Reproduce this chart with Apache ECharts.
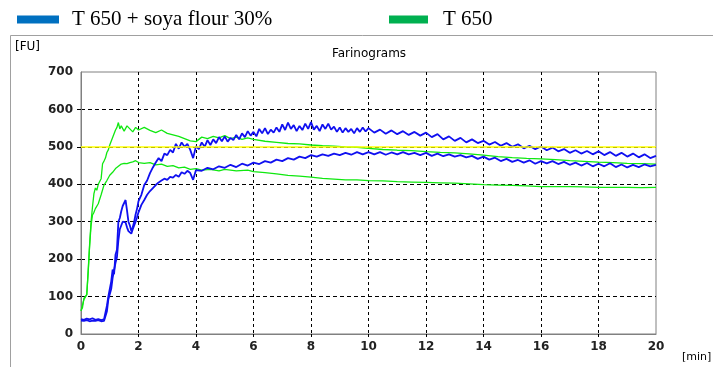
<!DOCTYPE html>
<html>
<head>
<meta charset="utf-8">
<script src="https://cdn.jsdelivr.net/npm/echarts@6/dist/echarts.min.js"></script>
<style>
  html, body { margin: 0; padding: 0; background: #fff; }
  #chart { width: 713px; height: 367px; }
</style>
</head>
<body>
<div id="chart"></div>
<script>
// tick labels
const xTicks = [0, 2, 4, 6, 8, 10, 12, 14, 16, 18, 20];
const yTicks = [0, 100, 200, 300, 400, 500, 600, 700];
const refLine = 500;

// [min, FU]
const soyaUpper = [
  [0, 40], [0.1, 38], [0.2, 41], [0.3, 39], [0.4, 42], [0.5, 38], [0.6, 40], [0.7, 37], [0.8, 39], [0.85, 40],
  [0.9, 75], [0.95, 100], [1.0, 98], [1.05, 140], [1.1, 172], [1.15, 160], [1.2, 212], [1.25, 225], [1.3, 300],
  [1.35, 310], [1.4, 328], [1.45, 342], [1.5, 350], [1.55, 358], [1.6, 330], [1.65, 300], [1.7, 290], [1.75, 275],
  [1.8, 285], [1.85, 300], [1.9, 320], [1.95, 335], [2.0, 355], [2.1, 372], [2.2, 398], [2.3, 410], [2.4, 430],
  [2.5, 445], [2.6, 458], [2.7, 470], [2.8, 462], [2.9, 482], [3.0, 478], [3.1, 492], [3.2, 485], [3.3, 508],
  [3.4, 495], [3.5, 512], [3.6, 500], [3.7, 508], [3.8, 492], [3.9, 470], [4.0, 502], [4.1, 494], [4.2, 512],
  [4.3, 500], [4.4, 518], [4.5, 505], [4.6, 520], [4.7, 510], [4.8, 526], [4.9, 515], [5.0, 528], [5.1, 514],
  [5.2, 524], [5.3, 518], [5.4, 532], [5.5, 520], [5.6, 536], [5.7, 526], [5.8, 542], [5.9, 530], [6.0, 540],
  [6.1, 528], [6.2, 548], [6.3, 536], [6.4, 550], [6.5, 534], [6.6, 546], [6.7, 538], [6.8, 552], [6.9, 540],
  [7.0, 560], [7.1, 545], [7.2, 565], [7.3, 548], [7.4, 558], [7.5, 542], [7.6, 556], [7.7, 545], [7.8, 562],
  [7.9, 548], [8.0, 566], [8.1, 546], [8.2, 556], [8.3, 542], [8.4, 560], [8.5, 548], [8.6, 562], [8.7, 546],
  [8.8, 554], [8.9, 540], [9.0, 552], [9.1, 538], [9.2, 550], [9.3, 540], [9.4, 548], [9.5, 536], [9.6, 550],
  [9.7, 540], [9.8, 552], [9.9, 541], [10.0, 550], [10.2, 538], [10.4, 546], [10.6, 535], [10.8, 544],
  [11.0, 534], [11.2, 542], [11.4, 532], [11.6, 540], [11.8, 530], [12.0, 538], [12.2, 526], [12.4, 534],
  [12.6, 520], [12.8, 528], [13.0, 516], [13.2, 524], [13.4, 512], [13.6, 520], [13.8, 510], [14.0, 516],
  [14.2, 506], [14.4, 513], [14.6, 503], [14.8, 510], [15.0, 500], [15.2, 507], [15.4, 496], [15.6, 503],
  [15.8, 494], [16.0, 501], [16.2, 491], [16.4, 498], [16.6, 488], [16.8, 494], [17.0, 484], [17.2, 491],
  [17.4, 482], [17.6, 489], [17.8, 480], [18.0, 488], [18.2, 478], [18.4, 486], [18.6, 476], [18.8, 484],
  [19.0, 474], [19.2, 482], [19.4, 472], [19.6, 480], [19.8, 470], [20.0, 476]
];
const soyaLower = [
  [0, 36], [0.1, 35], [0.2, 37], [0.3, 34], [0.4, 36], [0.5, 35], [0.6, 37], [0.7, 34], [0.8, 35], [0.85, 36],
  [0.9, 60], [0.95, 92], [1.0, 95], [1.05, 120], [1.1, 150], [1.15, 148], [1.2, 190], [1.25, 205], [1.3, 250],
  [1.35, 280], [1.4, 290], [1.45, 300], [1.5, 305], [1.55, 298], [1.6, 285], [1.65, 275], [1.7, 272], [1.75, 268],
  [1.8, 280], [1.85, 290], [1.9, 300], [1.95, 312], [2.0, 325], [2.1, 345], [2.2, 358], [2.3, 372], [2.4, 382],
  [2.5, 390], [2.6, 398], [2.7, 405], [2.8, 410], [2.9, 415], [3.0, 412], [3.1, 420], [3.2, 418], [3.3, 425],
  [3.4, 420], [3.5, 432], [3.6, 428], [3.7, 436], [3.8, 430], [3.9, 412], [4.0, 438], [4.2, 436], [4.4, 444],
  [4.6, 440], [4.8, 448], [5.0, 444], [5.2, 452], [5.4, 446], [5.6, 455], [5.8, 450], [6.0, 458], [6.2, 454],
  [6.4, 462], [6.6, 458], [6.8, 466], [7.0, 462], [7.2, 470], [7.4, 466], [7.6, 474], [7.8, 470], [8.0, 478],
  [8.2, 474], [8.4, 480], [8.6, 476], [8.8, 482], [9.0, 478], [9.2, 484], [9.4, 479], [9.6, 486], [9.8, 480],
  [10.0, 486], [10.2, 480], [10.4, 486], [10.6, 479], [10.8, 485], [11.0, 480], [11.2, 486], [11.4, 480],
  [11.6, 484], [11.8, 478], [12.0, 484], [12.2, 476], [12.4, 482], [12.6, 475], [12.8, 480], [13.0, 474],
  [13.2, 478], [13.4, 472], [13.6, 476], [13.8, 468], [14.0, 474], [14.2, 466], [14.4, 471], [14.6, 462],
  [14.8, 468], [15.0, 460], [15.2, 465], [15.4, 458], [15.6, 464], [15.8, 455], [16.0, 462], [16.2, 456],
  [16.4, 462], [16.6, 454], [16.8, 460], [17.0, 452], [17.2, 458], [17.4, 450], [17.6, 457], [17.8, 448],
  [18.0, 455], [18.2, 448], [18.4, 456], [18.6, 446], [18.8, 453], [19.0, 445], [19.2, 452], [19.4, 446],
  [19.6, 453], [19.8, 448], [20.0, 452]
];
const plainUpper = [
  [0, 62], [0.05, 70], [0.1, 95], [0.15, 92], [0.2, 105], [0.25, 170], [0.3, 240], [0.35, 300], [0.4, 340],
  [0.45, 375], [0.5, 390], [0.55, 384], [0.6, 400], [0.65, 396], [0.7, 415], [0.75, 455], [0.8, 462],
  [0.85, 470], [0.9, 485], [0.95, 492], [1.0, 505], [1.05, 515], [1.1, 525], [1.15, 520], [1.2, 545],
  [1.25, 552], [1.3, 565], [1.35, 548], [1.4, 556], [1.5, 542], [1.6, 556], [1.7, 548], [1.8, 540], [1.9, 552],
  [2.0, 545], [2.2, 552], [2.4, 544], [2.6, 538], [2.8, 545], [3.0, 536], [3.2, 532], [3.4, 528], [3.6, 522],
  [3.8, 516], [4.0, 514], [4.2, 526], [4.4, 522], [4.6, 528], [4.8, 524], [5.0, 530], [5.2, 522], [5.4, 526],
  [5.6, 520], [5.8, 524], [6.0, 520], [6.4, 515], [6.8, 512], [7.2, 509], [7.6, 508], [8.0, 505], [8.4, 503],
  [8.8, 502], [9.2, 500], [9.6, 499], [10.0, 496], [10.5, 493], [11.0, 491], [11.5, 490], [12.0, 487],
  [12.5, 485], [13.0, 484], [13.5, 481], [14.0, 478], [14.5, 474], [15.0, 471], [15.5, 469], [16.0, 468],
  [16.5, 466], [17.0, 463], [17.5, 461], [18.0, 459], [18.5, 458], [19.0, 456], [19.5, 455], [20.0, 454]
];
const plainLower = [
  [0, 62], [0.1, 92], [0.2, 105], [0.25, 165], [0.3, 235], [0.35, 290], [0.4, 318], [0.45, 325], [0.5, 335],
  [0.6, 348], [0.7, 372], [0.8, 398], [0.9, 410], [1.0, 424], [1.1, 432], [1.2, 442], [1.3, 448], [1.4, 454],
  [1.5, 456], [1.6, 455], [1.7, 458], [1.8, 460], [1.9, 463], [2.0, 458], [2.2, 456], [2.4, 458], [2.6, 452],
  [2.8, 454], [3.0, 448], [3.2, 450], [3.4, 444], [3.6, 446], [3.8, 440], [4.0, 442], [4.2, 438], [4.5, 440],
  [4.8, 436], [5.0, 440], [5.4, 436], [5.8, 438], [6.0, 434], [6.4, 431], [6.8, 428], [7.2, 424], [7.6, 422],
  [8.0, 419], [8.4, 416], [8.8, 414], [9.2, 412], [9.6, 412], [10.0, 410], [10.5, 409], [11.0, 407],
  [11.5, 406], [12.0, 405], [12.5, 404], [13.0, 403], [13.5, 401], [14.0, 399], [14.5, 398], [15.0, 397],
  [15.5, 396], [16.0, 394], [16.5, 394], [17.0, 394], [17.5, 393], [18.0, 392], [18.5, 392], [19.0, 392],
  [19.5, 391], [20.0, 392]
];

const soyaName = 'T 650 + soya flour 30%';
const plainName = 'T 650';
const blue = '#1010f0';
const green = '#10e810';

const chart = echarts.init(document.getElementById('chart'));

const legendText = {
  fontFamily: 'Liberation Serif',
  fontSize: 21,
  color: '#000'
};

const option = {
  animation: false,
  backgroundColor: '#fff',
  title: {
    text: 'Farinograms',
    left: 364,
    top: 43,
    textAlign: 'center',
    textStyle: {fontFamily: 'DejaVu Sans', fontSize: 12, fontWeight: 'normal', color: '#000'}
  },
  legend: [
    {
      left: 17, top: 9, padding: 0, icon: 'rect', itemWidth: 42, itemHeight: 8,
      data: [{name: soyaName, itemStyle: {color: '#0070c0'}}],
      textStyle: Object.assign({padding: [0, 0, 0, 8]}, legendText)
    },
    {
      left: 389, top: 9, padding: 0, icon: 'rect', itemWidth: 39, itemHeight: 8,
      data: [{name: plainName, itemStyle: {color: '#00b050'}}],
      textStyle: Object.assign({padding: [0, 0, 0, 10]}, legendText)
    }
  ],
  graphic: [
    {type: 'rect', shape: {x: 10.5, y: 35.5, width: 720, height: 400}, style: {fill: 'none', stroke: '#a0a0a0', lineWidth: 1}, z: -1},
    {type: 'text', left: 15, top: 41, style: {text: '[FU]', font: '12px "DejaVu Sans"', fill: '#000'}},
    {type: 'text', left: 682, top: 352, style: {text: '[min]', font: '11px "DejaVu Sans"', fill: '#000'}}
  ],
  grid: {left: 81, right: 57, top: 72, bottom: 33, show: true, borderColor: '#808080', borderWidth: 1},
  xAxis: {
    type: 'value', min: 0, max: 20, interval: 2,
    axisLine: {lineStyle: {color: '#808080'}},
    axisTick: {show: true, length: 5, customValues: xTicks.slice(1, -1), lineStyle: {color: '#000', type: [3, 3]}},
    axisLabel: {margin: 7, fontFamily: 'DejaVu Sans', fontSize: 12, fontWeight: 'bold', color: '#222',
      formatter: v => xTicks.includes(v) ? String(v) : ''},
    splitLine: {show: true, showMinLine: true, showMaxLine: true, lineStyle: {color: '#000', type: [3, 3], width: 1}}
  },
  yAxis: {
    type: 'value', min: 0, max: 700, interval: 100,
    axisLine: {show: true, lineStyle: {color: '#808080'}},
    axisTick: {show: true, length: 5, customValues: yTicks.slice(1, -1), lineStyle: {color: '#000', type: [4, 3]}},
    axisLabel: {margin: 8, fontFamily: 'DejaVu Sans', fontSize: 12, fontWeight: 'bold', color: '#222',
      formatter: v => yTicks.includes(v) ? String(v) : ''},
    splitLine: {show: true, showMinLine: true, showMaxLine: true, lineStyle: {color: '#000', type: [4, 3], width: 1}}
  },
  series: [
    {
      name: plainName, type: 'line', data: plainLower, showSymbol: false, color: green,
      lineStyle: {width: 1.3, color: green},
      markLine: {
        silent: true, symbol: 'none', label: {show: false},
        lineStyle: {color: '#ffff00', width: 1.5, type: 'solid'},
        data: [{yAxis: refLine}]
      }
    },
    {name: plainName, type: 'line', data: plainUpper, showSymbol: false, color: green, lineStyle: {width: 1.3, color: green}},
    {name: soyaName, type: 'line', data: soyaLower, showSymbol: false, color: blue, lineStyle: {width: 1.8, color: blue}},
    {name: soyaName, type: 'line', data: soyaUpper, showSymbol: false, color: blue, lineStyle: {width: 1.8, color: blue}}
  ]
};

chart.setOption(option);
</script>
</body>
</html>
